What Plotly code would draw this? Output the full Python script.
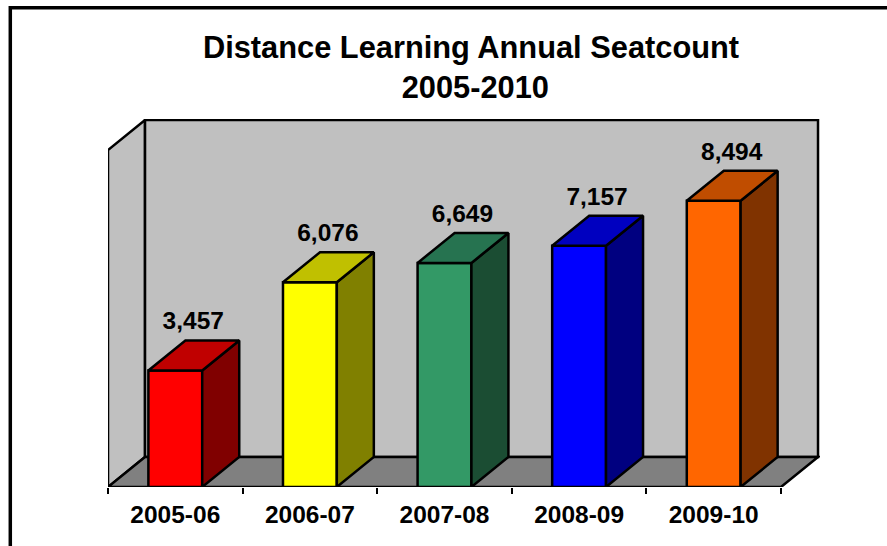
import plotly.graph_objects as go

categories = ["2005-06", "2006-07", "2007-08", "2008-09", "2009-10"]
seats = [3457, 6076, 6649, 7157, 8494]
front_colors = ["#ff0000", "#ffff00", "#339966", "#0000ff", "#ff6600"]
top_colors = ["#c00000", "#c0c000", "#267350", "#0000c0", "#c04d00"]
side_colors = ["#800000", "#808000", "#1b4d33", "#000080", "#803300"]

Y_MAX = 10000
DX = 0.275   # depth of the 3-D box, in category units
DY = 890     # depth of the 3-D box, in value units
HALF = 0.2   # half bar width
LABEL_GAP = 150
FONT = "Liberation Sans, Arial, sans-serif"
LW = 2.5

fig = go.Figure()

# front faces
fig.add_trace(go.Bar(
    x=list(range(len(seats))), y=seats, width=2 * HALF,
    marker=dict(color=front_colors, line=dict(color="black", width=LW)),
    hoverinfo="skip",
))

# side and top faces
for i, v in enumerate(seats):
    l, r = i - HALF, i + HALF
    fig.add_trace(go.Scatter(
        x=[r, r + DX, r + DX, r, r], y=[0, DY, v + DY, v, 0],
        mode="lines", fill="toself", fillcolor=side_colors[i],
        line=dict(color="black", width=LW), hoverinfo="skip", cliponaxis=False,
    ))
    fig.add_trace(go.Scatter(
        x=[l, l + DX, r + DX, r, l], y=[v, v + DY, v + DY, v, v],
        mode="lines", fill="toself", fillcolor=top_colors[i],
        line=dict(color="black", width=LW), hoverinfo="skip", cliponaxis=False,
    ))

# value labels
fig.add_trace(go.Scatter(
    x=[i + DX / 2 - 0.004 for i in range(len(seats))],
    y=[v + DY + LABEL_GAP for v in seats],
    text=[f"{v:,}" for v in seats],
    mode="text", textposition="top center",
    textfont=dict(family=FONT, size=24.5, color="black", weight="bold"),
    hoverinfo="skip", cliponaxis=False,
))

n = len(categories)
L, R = -0.5, n - 0.5
wall = dict(type="path", xref="x", yref="y", layer="below", line=dict(color="black", width=LW))
shapes = [
    # left wall
    dict(wall, path=f"M{L},0 L{L},{Y_MAX} L{L+DX},{Y_MAX+DY} L{L+DX},{DY} Z", fillcolor="#c0c0c0"),
    # back wall
    dict(wall, path=f"M{L+DX},{DY} L{L+DX},{Y_MAX+DY} L{R+DX},{Y_MAX+DY} L{R+DX},{DY} Z", fillcolor="#c0c0c0"),
    # floor
    dict(wall, path=f"M{L},0 L{L+DX},{DY} L{R+DX},{DY} L{R},0 Z", fillcolor="#808080"),
    # outer frame, running off the right and bottom of the page
    dict(type="rect", xref="paper", yref="paper",
         x0=(10.3 - 108) / 712, x1=1.2, y0=-0.3, y1=(487 - 7.7) / 368,
         line=dict(color="black", width=3.5), fillcolor="rgba(0,0,0,0)", layer="below"),
]

fig.update_layout(
    width=887, height=546,
    margin=dict(l=108, r=67, t=119, b=59),
    paper_bgcolor="white", plot_bgcolor="rgba(0,0,0,0)",
    showlegend=False,
    shapes=shapes,
    title=dict(
        text="<b>Distance Learning Annual Seatcount<br>&nbsp;2005-2010</b>",
        font=dict(family=FONT, size=30.8, color="black"),
        x=471 / 887, xanchor="center", y=1 - 58 / 546, yanchor="middle",
    ),
    xaxis=dict(
        range=[L, L + 712 / 134.6], showgrid=False, zeroline=False, showline=False,
        tickmode="array", tickvals=list(range(n)), ticktext=[f"<b>{c}</b>" for c in categories],
        tickfont=dict(family=FONT, size=24.5, color="black"),
        ticks="", ticklabelstandoff=10,
        minor=dict(tickmode="array", tickvals=[L + i for i in range(n + 1)],
                   ticks="outside", ticklen=6, tickwidth=2, tickcolor="black", showgrid=False),
    ),
    yaxis=dict(
        range=[0, 368 / 0.0337], showgrid=False, zeroline=False, showline=False,
        showticklabels=False, ticks="",
    ),
)

fig.write_html("out.html", config={"displayModeBar": False},
               post_script="document.body.style.margin='0';document.body.style.overflow='hidden';")
